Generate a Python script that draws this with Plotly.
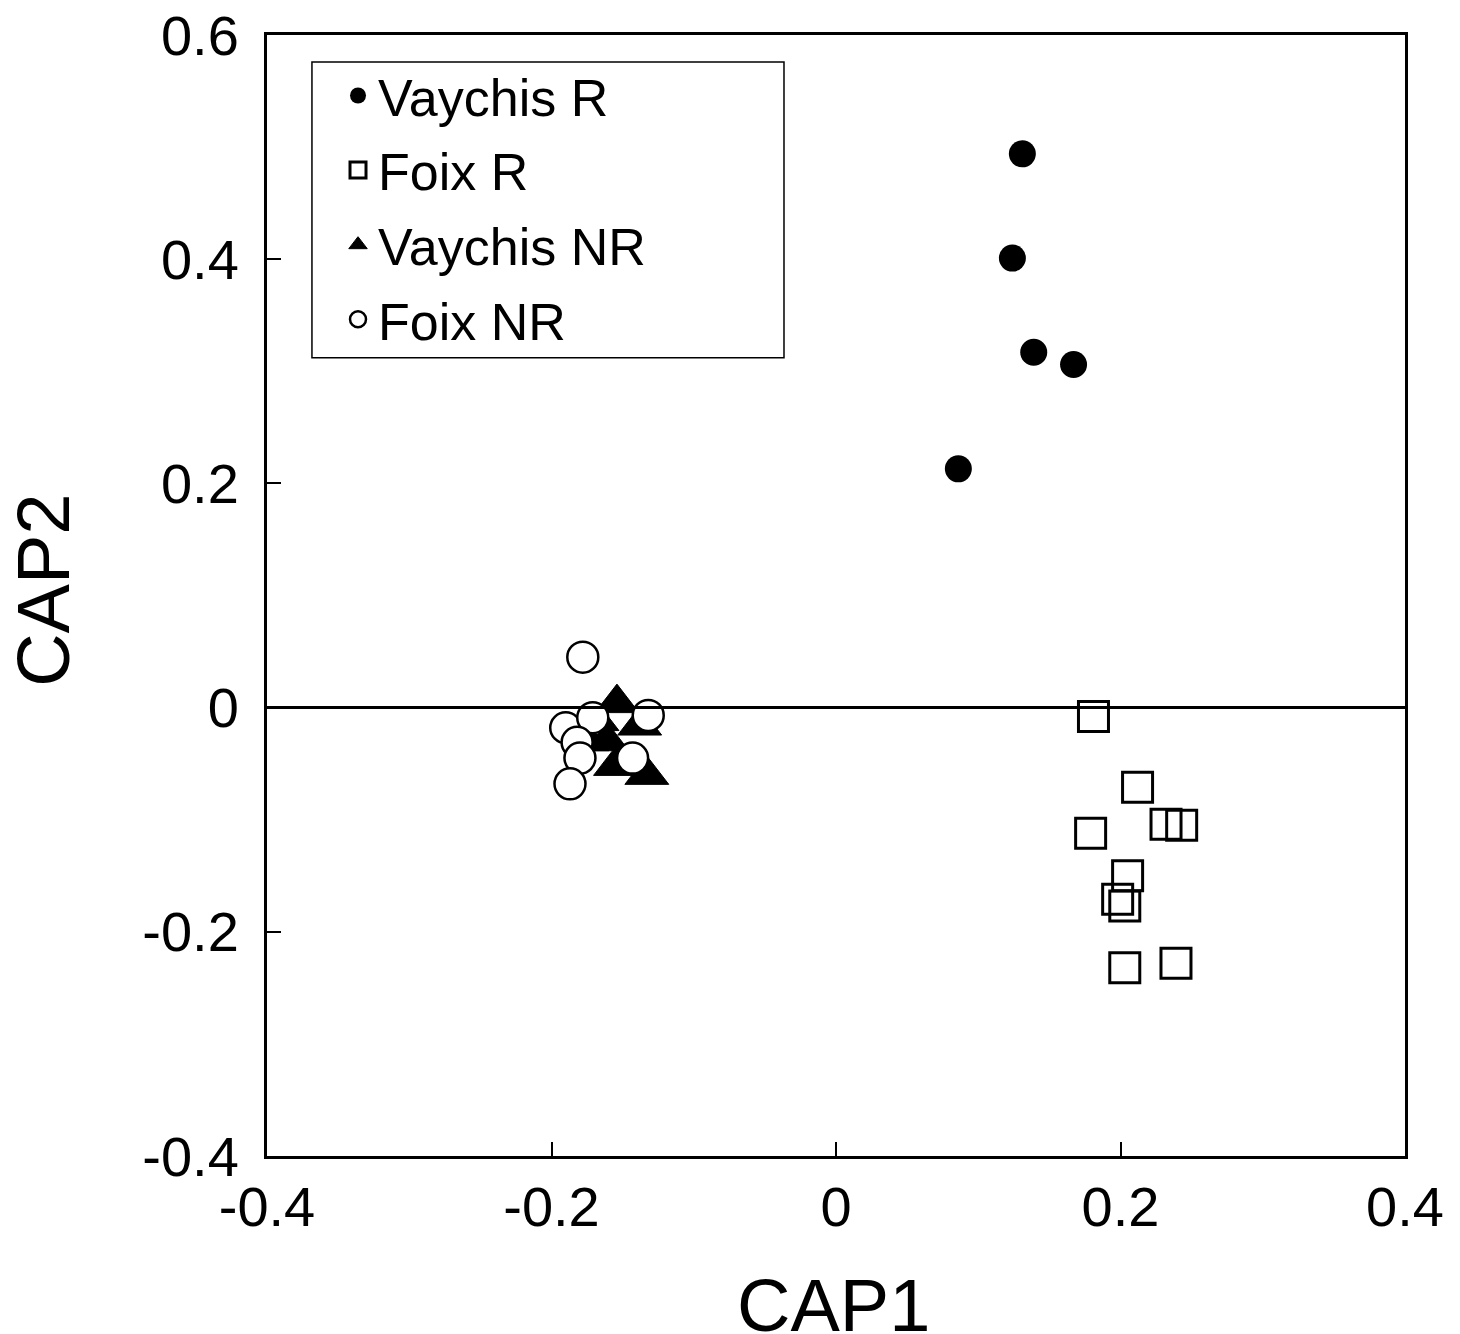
import plotly.graph_objects as go

# Vaychis R (filled circles)
vr_x = [0.131, 0.124, 0.139, 0.167, 0.086]
vr_y = [0.494, 0.401, 0.317, 0.306, 0.213]

# Foix R (open squares)
fr_x = [0.181, 0.212, 0.179, 0.232, 0.243, 0.205, 0.198, 0.203, 0.203, 0.239]
fr_y = [-0.008, -0.071, -0.112, -0.104, -0.105, -0.150, -0.171, -0.177, -0.232, -0.228]

# Vaychis NR (filled triangles)
vnr_x = [-0.154, -0.138, -0.168, -0.161, -0.175, -0.155, -0.133]
vnr_y = [0.004, -0.016, -0.012, -0.030, -0.030, -0.052, -0.060]

# Foix NR (open circles)
fnr_x = [-0.178, -0.190, -0.171, -0.132, -0.182, -0.180, -0.187, -0.143]
fnr_y = [0.045, -0.018, -0.009, -0.007, -0.031, -0.045, -0.068, -0.045]

xticks = [-0.4, -0.2, 0, 0.2, 0.4]
xlabels = ["-0.4", "-0.2", "0", "0.2", "0.4"]
yticks = [-0.4, -0.2, 0, 0.2, 0.4, 0.6]
ylabels = ["-0.4", "-0.2", "0", "0.2", "0.4", "0.6"]

x_title = "CAP1"
y_title = "CAP2"

FONT = "Liberation Sans, Arial, sans-serif"

fig = go.Figure()
fig.add_trace(go.Scatter(x=vr_x, y=vr_y, mode="markers", name="Vaychis R", legendgroup="a",
                         marker=dict(symbol="circle", size=27, color="black",
                                     line=dict(color="black", width=0))))
fig.add_trace(go.Scatter(x=fr_x, y=fr_y, mode="markers", name="Foix R", legendgroup="b",
                         marker=dict(symbol="square", size=30, color="rgba(255,255,255,0)",
                                     line=dict(color="black", width=3))))
fig.add_trace(go.Scatter(x=vnr_x, y=vnr_y, mode="markers", name="Vaychis NR", legendgroup="c",
                         marker=dict(symbol="triangle-up", size=38, color="black",
                                     line=dict(color="black", width=1))))
fig.add_trace(go.Scatter(x=fnr_x, y=fnr_y, mode="markers", name="Foix NR", legendgroup="d",
                         marker=dict(symbol="circle", size=31, color="white",
                                     line=dict(color="black", width=2.5))))

fig.add_shape(type="line", xref="paper", x0=0, x1=1, yref="y", y0=0, y1=0,
              line=dict(color="black", width=3), layer="above")

# legend frame
fig.add_shape(type="rect", xref="paper", yref="paper",
              x0=0.0395, x1=0.4543, y0=0.712, y1=0.976,
              line=dict(color="black", width=1.5), fillcolor="rgba(0,0,0,0)", layer="above")

axis_common = dict(showgrid=False, zeroline=False, showline=True, linecolor="black",
                   linewidth=3, mirror=True, ticks="inside", ticklen=14, tickwidth=2,
                   tickcolor="black", automargin=False, ticklabeloverflow="allow",
                   tickfont=dict(family=FONT, size=56, color="black"))

fig.update_xaxes(range=[-0.4, 0.4], tickvals=xticks, ticktext=xlabels, **axis_common)
fig.update_yaxes(range=[-0.4, 0.6], tickvals=yticks, ticktext=ylabels, ticklabelstandoff=14,
                 **axis_common)

# axis titles
fig.add_annotation(text=x_title, xref="paper", yref="paper", x=0.498, y=-0.1338,
                   xanchor="center", yanchor="middle", showarrow=False,
                   font=dict(family=FONT, size=74, color="black"))
fig.add_annotation(text=y_title, xref="paper", yref="paper", x=-0.196, y=0.505,
                   xanchor="center", yanchor="middle", showarrow=False, textangle=-90,
                   font=dict(family=FONT, size=74, color="black"))

fig.update_layout(
    width=1452, height=1326,
    margin=dict(l=259, r=55, t=27, b=178, autoexpand=False),
    plot_bgcolor="white", paper_bgcolor="white",
    showlegend=True,
    legend=dict(x=0.0624, y=0.982, xanchor="left", yanchor="top",
                bgcolor="rgba(0,0,0,0)", borderwidth=0,
                font=dict(family=FONT, size=52, color="black"),
                tracegroupgap=4, itemsizing="trace"),
)

fig.write_html("out.html")
